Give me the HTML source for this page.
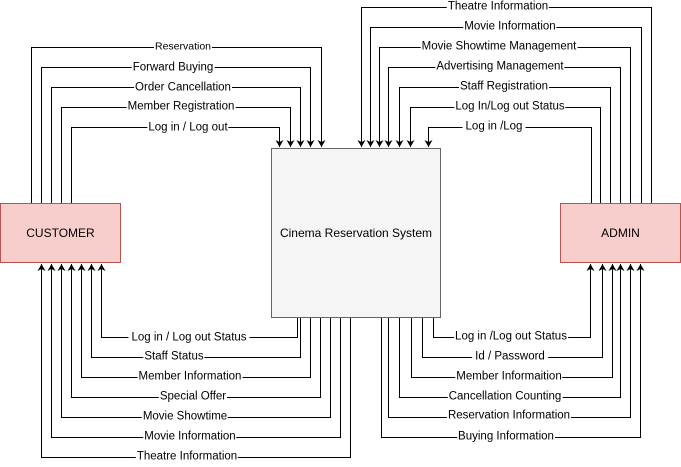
<!DOCTYPE html>
<html><head><meta charset="utf-8"><style>
html,body{margin:0;padding:0;background:#fff;}
#c{position:relative;width:681px;height:467px;overflow:hidden;font-family:"Liberation Sans",Helvetica,Arial,sans-serif;}
svg{position:absolute;left:0;top:0;}
.l{position:absolute;font-size:11.5px;line-height:13px;background:#fff;color:#000;padding:0 1px;white-space:nowrap;transform:translate(-50%,-50%);}
.b{position:absolute;display:flex;align-items:center;justify-content:center;font-size:12px;box-sizing:border-box;}
</style></head><body><div id="c">
<svg width="681" height="467" viewBox="0 0 681 467">
<defs><marker id="a" markerWidth="8" markerHeight="8" refX="7" refY="4" orient="auto" markerUnits="userSpaceOnUse"><path d="M0,0 L7,4 L0,8 L2,4z" fill="#000"/></marker></defs>
<g fill="none" stroke="#000" stroke-width="1">
<path d="M31.5,203 V47.5 H321.5 V147" marker-end="url(#a)"/>
<path d="M41.5,203 V67.5 H310.5 V147" marker-end="url(#a)"/>
<path d="M51.5,203 V87.5 H300.5 V147" marker-end="url(#a)"/>
<path d="M61.5,203 V107.5 H290.5 V147" marker-end="url(#a)"/>
<path d="M71.5,203 V127.5 H279.5 V147" marker-end="url(#a)"/>
<path d="M651.5,203 V7.5 H361.5 V147" marker-end="url(#a)"/>
<path d="M641.5,203 V27.5 H370.5 V147" marker-end="url(#a)"/>
<path d="M630.5,203 V47.5 H379.5 V147" marker-end="url(#a)"/>
<path d="M620.5,203 V67.5 H388.5 V147" marker-end="url(#a)"/>
<path d="M610.5,203 V87.5 H399.5 V147" marker-end="url(#a)"/>
<path d="M600.5,203 V107.5 H410.5 V147" marker-end="url(#a)"/>
<path d="M591.5,203 V127.5 H428.5 V147" marker-end="url(#a)"/>
<path d="M297.5,317 V337.5 H101.5 V264" marker-end="url(#a)"/>
<path d="M300.5,317 V357.5 H91.5 V264" marker-end="url(#a)"/>
<path d="M310.5,317 V377.5 H81.5 V264" marker-end="url(#a)"/>
<path d="M320.5,317 V397.5 H71.5 V264" marker-end="url(#a)"/>
<path d="M330.5,317 V417.5 H61.5 V264" marker-end="url(#a)"/>
<path d="M340.5,317 V437.5 H51.5 V264" marker-end="url(#a)"/>
<path d="M350.5,317 V457.5 H41.5 V264" marker-end="url(#a)"/>
<path d="M433.5,317 V337.5 H590.5 V264" marker-end="url(#a)"/>
<path d="M422.5,317 V357.5 H602.5 V264" marker-end="url(#a)"/>
<path d="M411.5,317 V377.5 H612.5 V264" marker-end="url(#a)"/>
<path d="M399.5,317 V397.5 H620.5 V264" marker-end="url(#a)"/>
<path d="M388.5,317 V417.5 H630.5 V264" marker-end="url(#a)"/>
<path d="M381.5,317 V437.5 H640.5 V264" marker-end="url(#a)"/>
</g>
</svg>
<div class="b" style="left:0;top:203px;width:121px;height:60px;background:#f8cecc;border:1px solid #b85450;">CUSTOMER</div>
<div class="b" style="left:560px;top:203px;width:121px;height:60px;background:#f8cecc;border:1px solid #b85450;">ADMIN</div>
<div class="b" style="left:271px;top:148px;width:170px;height:170px;background:#f5f5f5;border:1px solid #666;">Cinema Reservation System</div>

<div class="l" style="left:183px;top:47px;font-size:10.5px">Reservation</div>
<div class="l" style="left:173px;top:68px">Forward Buying</div>
<div class="l" style="left:183px;top:88px">Order Cancellation</div>
<div class="l" style="left:181px;top:107px">Member Registration</div>
<div class="l" style="left:188px;top:128px">Log in / Log out</div>

<div class="l" style="left:498px;top:7px">Theatre Information</div>
<div class="l" style="left:510px;top:27px">Movie Information</div>
<div class="l" style="left:499px;top:47px">Movie Showtime Management</div>
<div class="l" style="left:500px;top:67px">Advertising Management</div>
<div class="l" style="left:504px;top:87px">Staff Registration</div>
<div class="l" style="left:510px;top:107px">Log In/Log out Status</div>
<div class="l" style="left:494px;top:127px;padding:0 3px">Log in /Log</div>

<div class="l" style="left:189px;top:338px;padding:0 3px">Log in / Log out Status</div>
<div class="l" style="left:174px;top:357px">Staff Status</div>
<div class="l" style="left:190px;top:377px">Member Information</div>
<div class="l" style="left:193px;top:397px">Special Offer</div>
<div class="l" style="left:185px;top:417px">Movie Showtime</div>
<div class="l" style="left:190px;top:437px">Movie Information</div>
<div class="l" style="left:187px;top:457px">Theatre Information</div>

<div class="l" style="left:511px;top:337px">Log in /Log out Status</div>
<div class="l" style="left:510px;top:357px;padding:0 3px">Id / Password</div>
<div class="l" style="left:509px;top:377px">Member Informaition</div>
<div class="l" style="left:505px;top:397px">Cancellation Counting</div>
<div class="l" style="left:509px;top:416px">Reservation Information</div>
<div class="l" style="left:506px;top:437px">Buying Information</div>
</div></body></html>
